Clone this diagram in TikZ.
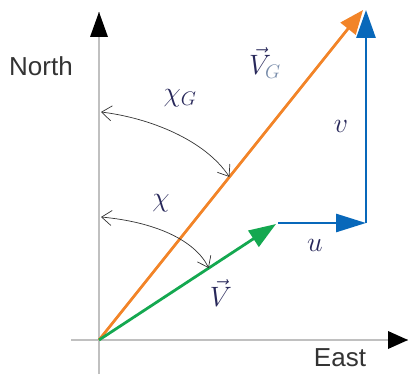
\RequirePackage{fix-cm}
\documentclass[tikz,border=0pt]{standalone}
\usepackage{fontspec}
\setmainfont{Liberation Sans}
\usetikzlibrary{arrows.meta,calc}
\definecolor{axisgray}{RGB}{192,192,192}
\definecolor{vorange}{RGB}{242,132,40}
\definecolor{vgreen}{RGB}{20,168,80}
\definecolor{vblue}{RGB}{8,104,186}
\definecolor{labelnavy}{RGB}{40,40,90}
\definecolor{subgray}{RGB}{120,140,170}
\tikzset{
  axis/.style={draw=axisgray, line width=2.6pt},
  vec/.style={line width=2.8pt},
  angarrow/.style={draw=black!80, line width=0.7pt,
    {Straight Barb[length=10pt,width=15pt,line width=0.7pt]}-{Straight Barb[length=10pt,width=15pt,line width=0.7pt]}},
  axlabel/.style={text=black!80, font=\fontsize{26}{30}\selectfont, inner sep=0pt},
  mlabel/.style={text=labelnavy, font=\fontsize{28}{34}\selectfont, inner sep=0pt}
}
\begin{document}
\begin{tikzpicture}[x=1pt,y=-1pt]
\useasboundingbox (0,0) rectangle (409,377);
% coordinates
\coordinate (O) at (99,340);
\coordinate (xs) at (71,340);
\coordinate (xe) at (408,340);
\coordinate (ys) at (99,374);
\coordinate (ye) at (99,12);
\coordinate (G) at (363,10);
\coordinate (V) at (276,224);
\coordinate (Us) at (278,223);
\coordinate (Ue) at (366,223);
\coordinate (Vt) at (366,10);
% axes
\draw[axis] (xs) -- (xe);
\draw[axis] (ys) -- (ye);
\fill[black] (408,340) -- (388,331) -- (388,349) -- cycle;
\fill[black] (99,12) -- (90,37) -- (108,37) -- cycle;
% vectors
\draw[vec, vblue, -{Triangle[length=28pt,width=19pt]}] (Ue) -- (Vt);
\draw[vec, vorange, -{Triangle[length=24pt,width=19pt]}] (O) -- (G);
\draw[vec, vgreen, -{Triangle[length=27pt,width=19pt]}] (O) -- (V);
\draw[vec, vblue, -{Triangle[length=30pt,width=18pt]}] (Us) -- (Ue);
% angle arrows
\coordinate (A1) at (101,112);
\coordinate (B1) at ($(O)!0.494!(G)$);
\coordinate (A2) at (101,217);
\coordinate (B2) at ($(O)!0.62!(V)$);
\draw[angarrow] (A1) .. controls (150,118) and (205,140) .. (B1);
\draw[angarrow] (A2) .. controls (155,222) and (195,240) .. (B2);
% labels
\node[axlabel] (north) at (41,66) {North};
\node[axlabel] (east) at (340,358) {East};
\node[mlabel] (lVG) at (265,63) {$\vec{V}_{\textcolor{subgray}{G}}$};
\node[mlabel] (lchiG) at (180,98) {$\chi_G$};
\node[mlabel] (lchi) at (161,203) {$\chi$};
\node[mlabel] (lv) at (341,126) {$v$};
\node[mlabel] (lu) at (315,245) {$u$};
\node[mlabel] (lV) at (221,293) {$\vec{V}$};
\end{tikzpicture}
\end{document}
